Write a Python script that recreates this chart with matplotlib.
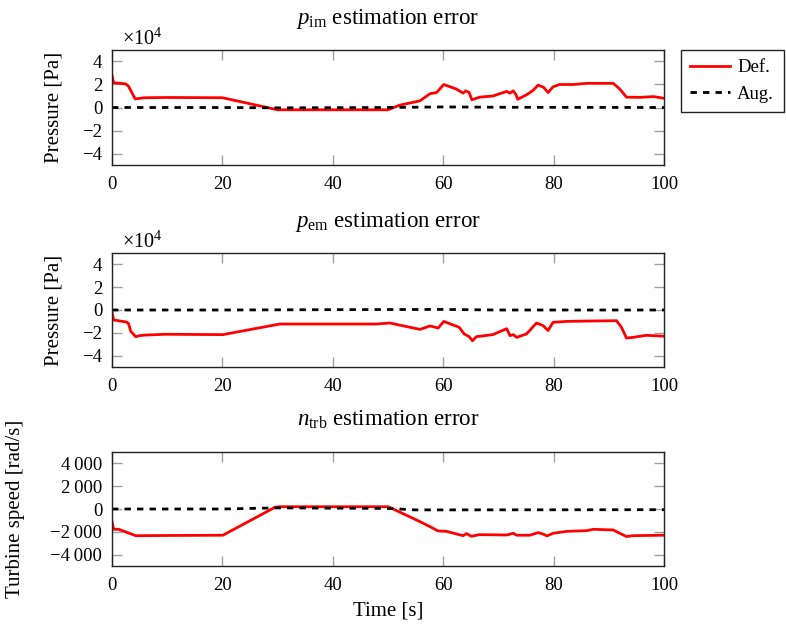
import matplotlib
matplotlib.use("Agg")
import matplotlib.pyplot as plt
from matplotlib.ticker import FuncFormatter, MultipleLocator

plt.rcParams['font.family'] = ['Liberation Serif', 'DejaVu Serif']
plt.rcParams['mathtext.fontset'] = 'custom'
plt.rcParams['mathtext.rm'] = 'Liberation Serif'
plt.rcParams['mathtext.it'] = 'Liberation Serif:italic'
plt.rcParams['font.size'] = 15

# ---- intake manifold pressure error (x 1e4 Pa) ----
pim_t = [0, 0.3, 1.5, 2.5, 3.0, 3.7, 4.2, 6, 10, 20, 30, 50, 52.1, 55.8, 57.6, 58.8,
         60.1, 62.4, 63.6, 64.1, 64.7, 65.2, 66.6, 69.0, 71.5, 72.1, 72.7, 73.2, 73.5,
         75.1, 76.3, 77.2, 78.2, 79.0, 79.9, 81.1, 83.6, 86.0, 90.8, 92.0, 93.2, 95.7,
         98.1, 100]
pim_def = [2.8, 2.15, 2.1, 2.05, 1.85, 1.2, 0.75, 0.85, 0.87, 0.85, -0.2, -0.2, 0.2,
           0.58, 1.2, 1.3, 2.0, 1.6, 1.25, 1.45, 1.3, 0.67, 0.9, 1.0, 1.4, 1.25, 1.45,
           1.1, 0.72, 1.1, 1.5, 1.95, 1.75, 1.3, 1.8, 2.0, 2.0, 2.1, 2.1, 1.6, 0.9,
           0.88, 0.95, 0.8]
pim_aug_t = [0, 20, 30, 50, 60, 70, 100]
pim_aug = [0.0, 0.0, -0.03, 0.0, 0.05, 0.02, 0.0]

# ---- exhaust manifold pressure error (x 1e4 Pa) ----
pem_t = [0, 0.3, 2.6, 3.0, 3.4, 4.3, 5.0, 6, 9.6, 20.1, 30.4, 47.9, 50.3, 55.8, 57.6,
         59.1, 60.1, 62.9, 63.8, 64.7, 65.3, 66.0, 69.0, 71.5, 72.1, 72.7, 73.3, 75.1,
         76.9, 78.1, 79.0, 79.9, 82.4, 86.0, 91.4, 92.3, 93.2, 94.4, 96.8, 100]
pem_def = [-0.2, -0.88, -1.05, -1.2, -1.87, -2.34, -2.25, -2.2, -2.13, -2.16, -1.23,
           -1.23, -1.14, -1.7, -1.4, -1.58, -1.0, -1.52, -2.1, -2.34, -2.7, -2.34,
           -2.16, -1.64, -2.25, -2.16, -2.4, -2.1, -1.14, -1.37, -1.8, -1.08, -1.0,
           -0.97, -0.94, -1.52, -2.46, -2.4, -2.22, -2.3]
pem_aug_t = [0, 20, 40, 60, 70, 100]
pem_aug = [0.0, 0.0, 0.03, 0.05, 0.0, 0.0]

# ---- turbine speed error (rad/s) ----
ntrb_t = [0, 0.3, 1.2, 4.3, 20.1, 29.5, 30.4, 50.0, 50.3, 55.8, 57.6, 59.1, 60.6, 63.6,
          64.2, 65.1, 66.6, 71.5, 72.7, 73.3, 75.7, 77.2, 78.1, 78.8, 79.9, 82.4, 86.0,
          87.2, 90.8, 92.0, 93.2, 94.4, 100]
ntrb_def = [-1110, -1780, -1780, -2340, -2300, 146, 200, 200, 146, -1110, -1550, -1930,
            -1960, -2340, -2160, -2390, -2250, -2280, -2130, -2300, -2300, -2070,
            -2200, -2360, -2130, -1960, -1900, -1780, -1840, -2130, -2420, -2340, -2300]
ntrb_aug_t = [0, 20, 30, 50, 55, 100]
ntrb_aug = [0, 0, 100, 50, -80, -60]

titles = [r'$p_{\mathrm{im}}$ estimation error',
          r'$p_{\mathrm{em}}$ estimation error',
          r'$n_{\mathrm{trb}}$ estimation error']
ylabels = ['Pressure [Pa]', 'Pressure [Pa]', 'Turbine speed [rad/s]']

W, H = 786, 632
fig = plt.figure(figsize=(W / 100, H / 100), dpi=100)

left, right = 112, 664
rows = [(50, 165), (253, 367), (452, 566)]
axes = []
for top, bot in rows:
    ax = fig.add_axes([left / W, 1 - bot / H, (right - left) / W, (bot - top) / H])
    axes.append(ax)

data = [(pim_t, pim_def, pim_aug_t, pim_aug),
        (pem_t, pem_def, pem_aug_t, pem_aug),
        (ntrb_t, ntrb_def, ntrb_aug_t, ntrb_aug)]

def thousands(v, pos):
    s = f"{abs(int(round(v))):,}".replace(",", "\u2009")
    return ("\u2212" + s) if v < 0 else s

def plain(v, pos):
    s = f"{abs(int(round(v)))}"
    return ("\u2212" + s) if v < 0 else s

TICK_FS = 13.5
LABEL_FS = 15
TITLE_FS = 16.5

for i, ax in enumerate(axes):
    t, d, ta, a = data[i]
    l1, = ax.plot(t, d, color='#ff0000', lw=2.0, solid_joinstyle='round', label='Def.')
    l2, = ax.plot(ta, a, color='black', lw=2.0, dashes=(2.3, 2.2), label='Aug.')
    ax.set_xlim(0, 100)
    ax.xaxis.set_major_locator(MultipleLocator(20))
    if i < 2:
        ax.set_ylim(-5, 5)
        ax.yaxis.set_major_locator(MultipleLocator(2))
        ax.yaxis.set_major_formatter(FuncFormatter(plain))
        ax.text(0.018, 1.0, r'$\times 10^{4}$', transform=ax.transAxes,
                ha='left', va='bottom', fontsize=14.5)
        ax.yaxis.set_label_coords(-0.087, 0.5)
    else:
        ax.set_ylim(-5000, 5000)
        ax.yaxis.set_major_locator(MultipleLocator(2000))
        ax.yaxis.set_major_formatter(FuncFormatter(thousands))
        ax.yaxis.set_label_coords(-0.158, 0.5)
    ax.xaxis.set_major_formatter(FuncFormatter(plain))
    ax.tick_params(direction='in', length=7, width=1.0, color='#a0a0a0',
                   top=True, right=True, labelsize=TICK_FS)
    ax.tick_params(axis='x', pad=8)
    ax.tick_params(axis='y', pad=7)
    for sp in ax.spines.values():
        sp.set_linewidth(1.0)
        sp.set_color('#222222')
    ax.set_title(titles[i], fontsize=TITLE_FS, pad=19)
    ax.set_ylabel(ylabels[i], fontsize=LABEL_FS)
    if i == 2:
        ax.set_xlabel('Time [s]', fontsize=LABEL_FS, labelpad=5)

fig.legend(handles=[l1, l2], loc='upper left',
           bbox_to_anchor=(681 / W, 1 - 50 / H), frameon=True, fancybox=False,
           edgecolor='#222222', framealpha=1, fontsize=13.5, handlelength=2.1,
           borderpad=0.5, labelspacing=0.5, handletextpad=0.4, borderaxespad=0)
leg = fig.legends[0]
leg.get_frame().set_linewidth(1.0)

fig.savefig('out.png', dpi=100)
